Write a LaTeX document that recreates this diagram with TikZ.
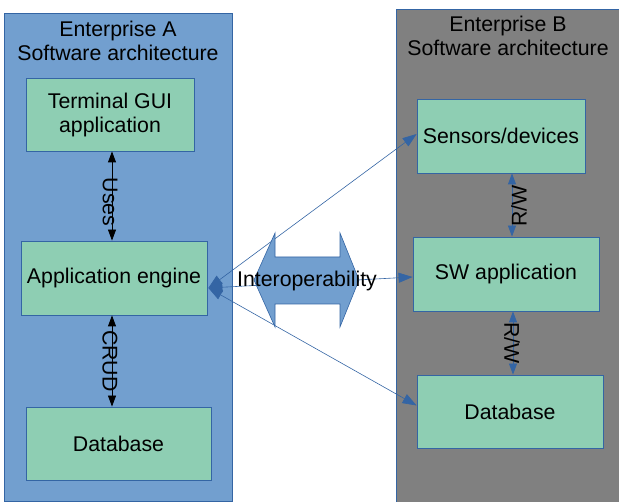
\documentclass[tikz,border=0pt]{standalone}
\usepackage{fontspec}
\setmainfont{Liberation Sans}
\usetikzlibrary{arrows.meta,calc}

\definecolor{lblue}{HTML}{729FCF}
\definecolor{dblue}{HTML}{3465A4}
\definecolor{mint}{RGB}{142,206,179}
\definecolor{slate}{HTML}{808080}

\tikzset{
  txt/.style={font=\fontsize{21.3}{24}\selectfont, text=black, inner sep=0pt},
  box/.style={txt, rectangle, draw=dblue, line width=0.8pt, fill=mint, align=center},
  usearrow/.style={line width=0.8pt, draw=black, {Triangle[length=11pt,width=8pt]}-{Triangle[length=11pt,width=8pt]}},
  rwarrow/.style={line width=0.8pt, draw=dblue, {Triangle[length=11pt,width=8pt,fill=dblue]}-{Triangle[length=11pt,width=8pt,fill=dblue]}},
  link/.style={line width=0.6pt, draw=dblue, {Triangle[length=14pt,width=10pt,fill=dblue]}-{Triangle[length=14pt,width=10pt,fill=dblue]}},
}

\begin{document}
\begin{tikzpicture}[x=1pt, y=-1pt]
  \useasboundingbox (0,0) rectangle (619,502);

  % enterprise containers
  \draw[draw=dblue, line width=0.8pt, fill=lblue] (4,13) rectangle (232,501.5);
  \draw[draw=dblue, line width=0.8pt, fill=slate] (396,9) rectangle (625,508);

  \node[txt, align=center] (titleA) at (118,41) {Enterprise A\\Software architecture};
  \node[txt, align=center] (titleB) at (508,36) {Enterprise B\\Software architecture};

  % Enterprise A components
  \node[box, minimum width=168pt, minimum height=73pt] (gui) at (110,114.5) {Terminal GUI\\application};
  \node[box, minimum width=186pt, minimum height=74pt] (engine) at (114,278) {Application engine};
  \node[box, minimum width=185pt, minimum height=73pt] (dbA) at (118.5,443.5) {Database};

  % Enterprise B components
  \node[box, minimum width=168pt, minimum height=74pt] (sensors) at (501,136) {Sensors/devices};
  \node[box, minimum width=186pt, minimum height=74pt] (swapp) at (506,274) {SW application};
  \node[box, minimum width=186pt, minimum height=73pt] (dbB) at (510,411.5) {Database};

  % internal relations
  \draw[usearrow] ([xshift=2pt]gui.south) -- ([xshift=-2pt]engine.north)
    node[txt, midway, xshift=-2pt, yshift=-6pt, rotate=-90] {Uses};
  \draw[usearrow] ([xshift=-2pt]engine.south) -- ([xshift=-6.5pt]dbA.north)
    node[txt, midway, xshift=-2pt, rotate=-90] {CRUD};
  \draw[rwarrow] ([xshift=11pt]sensors.south) -- ([xshift=6pt]swapp.north)
    node[txt, midway, xshift=7pt, yshift=-1pt, rotate=90] {R/W};
  \draw[rwarrow] ([xshift=7pt]swapp.south) -- ([xshift=3pt]dbB.north)
    node[txt, midway, xshift=-1pt, rotate=-90] {R/W};

  % cross-enterprise links
  \coordinate (hub) at ([xshift=1pt, yshift=-10pt]engine.east);
  \draw[link] (hub) -- ([yshift=2pt]sensors.west);
  \draw[link] (hub) -- ([yshift=-3pt]swapp.west);
  \draw[link] (hub) -- ([yshift=6pt]dbB.west);

  % interoperability double arrow
  \draw[draw=dblue, line width=0.6pt, fill=lblue]
    (254,280) -- (275,233) -- (275,257) -- (340,257) -- (340,233)
    -- (359,280) -- (340,327) -- (340,304) -- (275,304) -- (275,327) -- cycle;
  \node[txt] (interop) at (307,281) {Interoperability};
\end{tikzpicture}
\end{document}
